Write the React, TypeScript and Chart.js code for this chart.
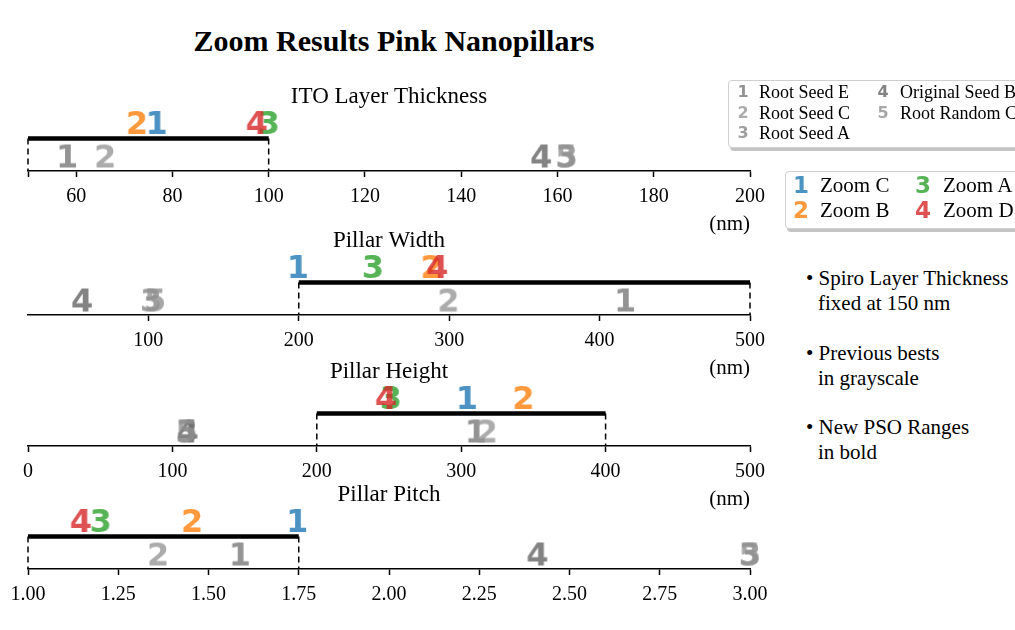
import { useEffect, useRef } from 'react';
import { Chart, registerables } from 'chart.js';

Chart.register(...registerables);

const SERIF = '"Liberation Serif", "DejaVu Serif", serif';
const SANS = '"DejaVu Sans", sans-serif';

// Parameters swept by the optimiser, one axis each
const PARAMETERS = ['ITO Layer Thickness', 'Pillar Width', 'Pillar Height', 'Pillar Pitch'];
const UNITS = ['(nm)', '(nm)', '(nm)', ''];

// Previous best results (grayscale)
const ROOT_SEED_E = [58.3, 417.5, 310.7, 1.589];
const ROOT_SEED_C = [66.0, 299.4, 317.6, 1.36];
const ROOT_SEED_A = [161.9, 101.7, 110.0, 3.0];
const ORIGINAL_SEED_B = [156.6, 55.9, 110.5, 2.411];
const ROOT_RANDOM_C = [161.9, 104.7, 110.0, 3.0];

// Zoom run results (colour)
const ZOOM_C = [76.9, 200.0, 304.5, 1.748];
const ZOOM_B = [72.6, 288.2, 343.0, 1.454];
const ZOOM_A = [100.0, 249.2, 251.2, 1.201];
const ZOOM_D = [97.5, 292.0, 247.8, 1.146];

// New PSO search ranges (bold bars)
const RANGE_LOW = [50, 200, 200, 1.0];
const RANGE_HIGH = [100, 500, 400, 1.75];

// Axis extents and ticks
const AXIS_MIN = [50, 20, 0, 1.0];
const AXIS_MAX = [200, 500, 500, 3.0];
const TICK_VALUES = [
  [50, 60, 80, 100, 120, 140, 160, 180, 200],
  [100, 200, 300, 400, 500],
  [0, 100, 200, 300, 400, 500],
  [1.0, 1.25, 1.5, 1.75, 2.0, 2.25, 2.5, 2.75, 3.0],
];
const TICK_LABELS = [
  ['', '60', '80', '100', '120', '140', '160', '180', '200'],
  ['100', '200', '300', '400', '500'],
  ['0', '100', '200', '300', '400', '500'],
  ['1.00', '1.25', '1.50', '1.75', '2.00', '2.25', '2.50', '2.75', '3.00'],
];

const NOTES = [
  ['\u2022 Spiro Layer Thickness', 'fixed at 150 nm'],
  ['\u2022 Previous bests', 'in grayscale'],
  ['\u2022 New PSO Ranges', 'in bold'],
];

type Series = { label: string; digit: string; color: string; values: number[] };

const PREVIOUS: Series[] = [
  { label: 'Root Seed E', digit: '1', color: 'rgba(120,120,120,0.8)', values: ROOT_SEED_E },
  { label: 'Root Seed C', digit: '2', color: 'rgba(150,150,150,0.8)', values: ROOT_SEED_C },
  { label: 'Root Seed A', digit: '3', color: 'rgba(135,135,135,0.8)', values: ROOT_SEED_A },
  { label: 'Original Seed B', digit: '4', color: 'rgba(100,100,100,0.8)', values: ORIGINAL_SEED_B },
  { label: 'Root Random C', digit: '5', color: 'rgba(145,145,145,0.8)', values: ROOT_RANDOM_C },
];

const ZOOMS: Series[] = [
  { label: 'Zoom C', digit: '1', color: 'rgba(31,119,180,0.8)', values: ZOOM_C },
  { label: 'Zoom B', digit: '2', color: 'rgba(255,127,14,0.8)', values: ZOOM_B },
  { label: 'Zoom A', digit: '3', color: 'rgba(44,160,44,0.8)', values: ZOOM_A },
  { label: 'Zoom D', digit: '4', color: 'rgba(214,39,40,0.8)', values: ZOOM_D },
];

// Layout (page pixels)
const AXIS_Y = [171, 315, 445.5, 569];
const PANEL_W = 780;
const PANEL_H = 170;
const AXIS_IN_CANVAS = 100;
// Row heights above the axis, in the hidden y scale (1 unit = 1 px)
const ROW_PREVIOUS = 15;
const ROW_BAR = 32.5;
const ROW_NEW = 48.5;
const MARKER_SIZE = 32;

function glyph(digit: string, color: string, size: number): HTMLCanvasElement {
  const c = document.createElement('canvas');
  const font = `bold ${size}px ${SANS}`;
  const probe = c.getContext('2d')!;
  probe.font = font;
  const m = probe.measureText(digit);
  const w = Math.ceil(m.actualBoundingBoxLeft + m.actualBoundingBoxRight) + 2;
  const h = Math.ceil(m.actualBoundingBoxAscent + m.actualBoundingBoxDescent) + 2;
  c.width = w;
  c.height = h;
  const ctx = c.getContext('2d')!;
  ctx.font = font;
  ctx.fillStyle = color;
  ctx.textAlign = 'left';
  ctx.textBaseline = 'alphabetic';
  ctx.fillText(digit, 1 + m.actualBoundingBoxLeft, 1 + m.actualBoundingBoxAscent);
  return c;
}

function Panel({ index }: { index: number }) {
  const ref = useRef<HTMLCanvasElement>(null);

  useEffect(() => {
    const canvas = ref.current!;
    const low = RANGE_LOW[index];
    const high = RANGE_HIGH[index];
    const tickValues = TICK_VALUES[index];
    const tickLabels = TICK_LABELS[index];

    const datasets: any[] = [
      {
        data: [{ x: low, y: ROW_BAR }, { x: high, y: ROW_BAR }],
        showLine: true,
        borderColor: '#000',
        borderWidth: 4.5,
        borderCapStyle: 'butt',
        pointRadius: 0,
        clip: false,
        order: 100,
      },
      ...[low, high].map((v) => ({
        data: [{ x: v, y: ROW_BAR }, { x: v, y: 0 }],
        showLine: true,
        borderColor: '#000',
        borderWidth: 1.5,
        borderDash: [6, 4],
        pointRadius: 0,
        clip: false,
        order: 101,
      })),
      ...PREVIOUS.map((s, k) => ({
        data: [{ x: s.values[index], y: ROW_PREVIOUS }],
        pointStyle: glyph(s.digit, s.color, MARKER_SIZE),
        pointRadius: 10,
        clip: false,
        order: 50 - k,
      })),
      ...ZOOMS.map((s, k) => ({
        data: [{ x: s.values[index], y: ROW_NEW }],
        pointStyle: glyph(s.digit, s.color, MARKER_SIZE),
        pointRadius: 10,
        clip: false,
        order: 20 - k,
      })),
    ];

    const chart = new Chart(canvas, {
      type: 'scatter',
      data: { datasets },
      options: {
        animation: false,
        responsive: false,
        events: [],
        layout: { padding: { left: 28, right: PANEL_W - 750, top: 0, bottom: 0 } },
        plugins: {
          legend: { display: false },
          tooltip: { enabled: false },
          title: {
            display: true,
            text: PARAMETERS[index],
            color: '#000',
            font: { family: SERIF, size: 23, weight: 'normal' },
            padding: { top: 12, bottom: 5.4 },
          },
        },
        scales: {
          x: {
            type: 'linear',
            min: AXIS_MIN[index],
            max: AXIS_MAX[index],
            afterBuildTicks: (scale: any) => {
              scale.ticks = tickValues.map((v) => ({ value: v }));
            },
            afterFit: (scale: any) => {
              scale.height = PANEL_H - AXIS_IN_CANVAS;
            },
            ticks: {
              autoSkip: false,
              maxRotation: 0,
              padding: 8,
              color: '#000',
              font: { family: SERIF, size: 20 },
              callback: (_v: any, i: number) => tickLabels[i],
            },
            grid: {
              drawOnChartArea: false,
              drawTicks: true,
              tickLength: 6,
              tickWidth: 1.5,
              tickColor: '#000',
            },
            border: { display: true, color: '#000', width: 1.5 },
            title: {
              display: UNITS[index] !== '',
              text: UNITS[index],
              align: 'end',
              color: '#000',
              font: { family: SERIF, size: 21 },
              padding: { top: 0, bottom: 4.4 },
            },
          },
          y: { display: false, min: 0, max: 55 },
        },
      } as any,
    });

    return () => chart.destroy();
  }, [index]);

  return (
    <canvas
      ref={ref}
      width={PANEL_W}
      height={PANEL_H}
      style={{
        position: 'absolute',
        left: 0,
        top: AXIS_Y[index] - AXIS_IN_CANVAS,
        width: PANEL_W,
        height: PANEL_H,
      }}
    />
  );
}

function LegendEntry({
  series, mx, tx, cy, markerSize, textSize,
}: { series: Series; mx: number; tx: number; cy: number; markerSize: number; textSize: number }) {
  const lh = 26;
  return (
    <>
      <span
        style={{
          position: 'absolute', left: mx - 12, width: 24, top: cy - lh / 2, lineHeight: `${lh}px`,
          textAlign: 'center', fontFamily: SANS, fontWeight: 'bold', fontSize: markerSize, color: series.color,
        }}
      >
        {series.digit}
      </span>
      <span
        style={{
          position: 'absolute', left: tx, top: cy - lh / 2, lineHeight: `${lh}px`,
          fontFamily: SERIF, fontSize: textSize, color: '#000', whiteSpace: 'nowrap',
        }}
      >
        {series.label}
      </span>
    </>
  );
}

const boxStyle = {
  position: 'absolute' as const,
  background: '#fff',
  border: '1px solid #cfcfcf',
  borderRadius: 4,
  boxShadow: '2px 3px 0 #c4c4c4',
};

export default function App() {
  const prevCols = [{ mx: 14, tx: 30 }, { mx: 154, tx: 171 }];
  const prevRows = [11, 32, 52];
  const zoomCols = [{ mx: 15, tx: 34 }, { mx: 137, tx: 157 }];
  const zoomRows = [13, 38];
  const notesTop = [278, 353, 427];

  return (
    <div
      style={{
        position: 'fixed', left: 0, top: 0, width: 1015, height: 630,
        overflow: 'hidden', background: '#fff', fontFamily: SERIF,
      }}
    >
      <div
        style={{
          position: 'absolute', left: 0, width: 788, top: 23, lineHeight: '36px',
          textAlign: 'center', fontWeight: 'bold', fontSize: 30, color: '#000',
        }}
      >
        Zoom Results Pink Nanopillars
      </div>

      {PARAMETERS.map((p, i) => (
        <Panel key={p} index={i} />
      ))}

      <div style={{ ...boxStyle, left: 728, top: 80, width: 320, height: 66 }}>
        {PREVIOUS.map((s, k) => {
          const col = prevCols[k < 3 ? 0 : 1];
          const row = prevRows[k < 3 ? k : k - 3];
          return (
            <LegendEntry key={s.label} series={s} mx={col.mx} tx={col.tx} cy={row} markerSize={16} textSize={18} />
          );
        })}
      </div>

      <div style={{ ...boxStyle, left: 785, top: 171, width: 260, height: 56 }}>
        {ZOOMS.map((s, k) => {
          const col = zoomCols[k < 2 ? 0 : 1];
          const row = zoomRows[k % 2];
          return (
            <LegendEntry key={s.label} series={s} mx={col.mx} tx={col.tx} cy={row} markerSize={23} textSize={21} />
          );
        })}
      </div>

      {NOTES.map((lines, k) => (
        <div key={k}>
          <div
            style={{
              position: 'absolute', left: 806, top: notesTop[k] - 13, lineHeight: '26px',
              fontSize: 21, color: '#000', whiteSpace: 'nowrap',
            }}
          >
            {lines[0]}
          </div>
          <div
            style={{
              position: 'absolute', left: 818, top: notesTop[k] + 25 - 13, lineHeight: '26px',
              fontSize: 21, color: '#000', whiteSpace: 'nowrap',
            }}
          >
            {lines[1]}
          </div>
        </div>
      ))}
    </div>
  );
}
